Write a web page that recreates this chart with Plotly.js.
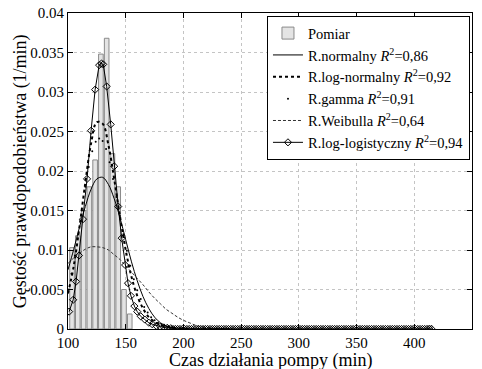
<!DOCTYPE html>
<html>
<head>
<meta charset="utf-8">
<script src="https://cdn.plot.ly/plotly-3.0.1.min.js"></script>
<style>html,body{margin:0;padding:0;background:#fff;}#chart{width:482px;height:369px;}</style>
</head>
<body>
<div id="chart"></div>
<script>
// Histogram (Pomiar)
const binCenters = [103.5,108.5,113.5,118.5,123.5,128.5,133.5,138.5,143.5,148.5,153.5,413.5];
const binHeights = [0.0103,0.0118,0.0150,0.0180,0.0214,0.0348,0.0368,0.0222,0.0180,0.0050,0.0019,0.0004];

// common grid for smooth fitted curves
const tGrid = [100,105,110,115,120,125,130,135,140,145,150,155,160,165,170,175,180,185,190,195,200,205,210,215,220,225,230,235,240];
const normalY = [0.0075,0.0101,0.0129,0.0155,0.0177,0.0190,0.0192,0.0183,0.0165,0.0141,0.0113,0.0085,0.0061,0.0041,0.0026,0.0015,0.0008,0.0004,0.0002,0.0001,0.00004,0,0,0,0,0,0,0,0];
const logNormalY = [0.0045,0.0080,0.0130,0.0185,0.0235,0.0262,0.0260,0.0233,0.0190,0.0143,0.0100,0.0066,0.0042,0.0026,0.0015,0.0009,0.0005,0.0003,0.0002,0.0001,0.00005,0,0,0,0,0,0,0,0];
const weibullY = [0.0083,0.0090,0.0096,0.0101,0.0104,0.0104,0.0103,0.0100,0.0094,0.0088,0.0080,0.0072,0.0064,0.0056,0.0047,0.0039,0.0032,0.0025,0.0020,0.0015,0.0011,0.0008,0.0005,0.0003,0.0002,0.0001,0.00005,0,0];

// gamma (points only)
const gammaX = [100,103,106,109,112,115,118,121,124,127,130,133,136,139,142,145,148,151,154,157,160,163,166,169,172,175,178,181,184,187,190];
const gammaY = [0.0050,0.0070,0.0093,0.0120,0.0150,0.0180,0.0205,0.0225,0.0237,0.0241,0.0238,0.0228,0.0211,0.0190,0.0167,0.0143,0.0120,0.0099,0.0080,0.0063,0.0049,0.0038,0.0028,0.0021,0.0015,0.0011,0.0008,0.0005,0.0004,0.0003,0.0002];

// log-logistic (line with diamonds)
const logLogX = [101,104.5,107,109.5,113,116.5,120,123.5,127,129,130.5,133.5,137,140,143.5,146.5,149.5,152,154.5,157.5,160,163,166.5,170,173,176.5,180,183,186,189,
  191,193,195,197,199,201,203,205,207,209,211,213,215,217,219,221,223,225,227,229,231,233,235,237,239,241,243,245,247,249,251,253,255,257,259,261,263,265,267,269,271,273,275,277,279,281,283,285,287,289,291,293,295,297,299,
  301,303,305,307,309,311,313,315,317,319,321,323,325,327,329,331,333,335,337,339,341,343,345,347,349,351,353,355,357,359,361,363,365,367,369,371,373,375,377,379,381,383,385,387,389,391,393,395,397,399,401,403,405,407,409,411,413,415];
const logLogY = [0.0022,0.0037,0.0060,0.0093,0.0139,0.0190,0.0251,0.0303,0.0334,0.0336,0.0335,0.0307,0.0259,0.0206,0.0155,0.0115,0.0081,0.0058,0.0042,0.0029,0.0022,0.0016,0.0012,0.0008,0.0006,0.0004,0.0003,0.0002,0.00015,0.0001,
  0,0,0,0,0,0,0,0,0,0,0,0,0,0,0,0,0,0,0,0,0,0,0,0,0,0,0,0,0,0,0,0,0,0,0,0,0,0,0,0,0,0,0,0,0,0,0,0,0,0,0,0,0,0,0,
  0,0,0,0,0,0,0,0,0,0,0,0,0,0,0,0,0,0,0,0,0,0,0,0,0,0,0,0,0,0,0,0,0,0,0,0,0,0,0,0,0,0,0,0,0,0,0,0,0,0,0,0,0,0,0,0,0,0,0,0,0,0,0,0,0,0,0,0,0,0,0,0,0,0,0,0,0,0,0,0,0,0,0,0,0,0,0,0,0,0,0,0,0,0,0,0,0,0,0,0,0,0,0,0,0,0,0,0,0,0,0,0,0,0,0,0,0,0,0,0,0];

const seriesNames = ['Pomiar',
  'R.normalny <i>R</i><sup>2</sup>=0,86',
  'R.log-normalny <i>R</i><sup>2</sup>=0,92',
  'R.gamma <i>R</i><sup>2</sup>=0,91',
  'R.Weibulla <i>R</i><sup>2</sup>=0,64',
  'R.log-logistyczny <i>R</i><sup>2</sup>=0,94'];

const xTitle = 'Czas działania pompy (min)';
const yTitle = 'Gęstość prawdopodobieństwa (1/min)';
const yTicks = [0,0.005,0.01,0.015,0.02,0.025,0.03,0.035,0.04];
const yTickText = ['0','0.005','0.01','0.015','0.02','0.025','0.03','0.035','0.04'];
const xTicks = [100,150,200,250,300,350,400,450];

const traces = [
  {type:'bar', x:binCenters, y:binHeights, width:4, name:seriesNames[0],
   marker:{color:'#e4e4e4', line:{color:'#8a8a8a', width:1}}},
  {type:'scatter', mode:'lines', x:tGrid, y:normalY, name:seriesNames[1],
   line:{color:'#000', width:1, shape:'spline'}},
  {type:'scatter', mode:'lines', x:tGrid, y:logNormalY, name:seriesNames[2],
   line:{color:'#000', width:2, dash:'dot', shape:'spline'}},
  {type:'scatter', mode:'markers', x:gammaX, y:gammaY, name:seriesNames[3],
   marker:{color:'#000', size:2, symbol:'circle'}},
  {type:'scatter', mode:'lines', x:tGrid, y:weibullY, name:seriesNames[4],
   line:{color:'#333', width:1, dash:'3px,2px', shape:'spline'}},
  {type:'scatter', mode:'lines+markers', x:logLogX, y:logLogY, name:seriesNames[5],
   line:{color:'#000', width:1},
   marker:{symbol:'diamond-open', size:5.5, color:'#000', line:{width:1}}}
];

const serif = 'Liberation Serif, Times New Roman, serif';
const layout = {
  width:482, height:369,
  margin:{l:68, r:10, t:13, b:39.5},
  paper_bgcolor:'#fff', plot_bgcolor:'#fff',
  font:{family:serif, size:15, color:'#000'},
  showlegend:true,
  bargap:0,
  xaxis:{range:[100,450], tickvals:xTicks, ticks:'inside', ticklen:5, tickcolor:'#000',
    showline:true, linecolor:'#000', linewidth:1, mirror:'ticks',
    showgrid:true, gridcolor:'#c4c4c4', griddash:'dot', gridwidth:1, zeroline:false,
    tickfont:{family:serif, size:15}},
  yaxis:{range:[0,0.04], tickvals:yTicks, ticktext:yTickText, ticks:'inside', ticklen:5, tickcolor:'#000',
    showline:true, linecolor:'#000', linewidth:1, mirror:'ticks',
    showgrid:true, gridcolor:'#c4c4c4', griddash:'dot', gridwidth:1, zeroline:false,
    tickfont:{family:serif, size:15}},
  annotations:[
    {text:xTitle, xref:'paper', yref:'paper', x:0.5, xanchor:'center',
     y:-0.06, yanchor:'top', showarrow:false, font:{family:serif, size:18, color:'#000'}},
    {text:yTitle, xref:'paper', yref:'paper', x:-0.118, xanchor:'center',
     y:0.5, yanchor:'middle', textangle:-90, showarrow:false, font:{family:serif, size:18, color:'#000'}}
  ],
  legend:{x:0.995, xanchor:'right', y:0.99, yanchor:'top', bgcolor:'#fff',
    bordercolor:'#000', borderwidth:1, itemwidth:30,
    font:{family:serif, size:14.5, color:'#000'}, tracegroupgap:0}
};

Plotly.newPlot('chart', traces, layout, {displayModeBar:false, staticPlot:true});
</script>
</body>
</html>
